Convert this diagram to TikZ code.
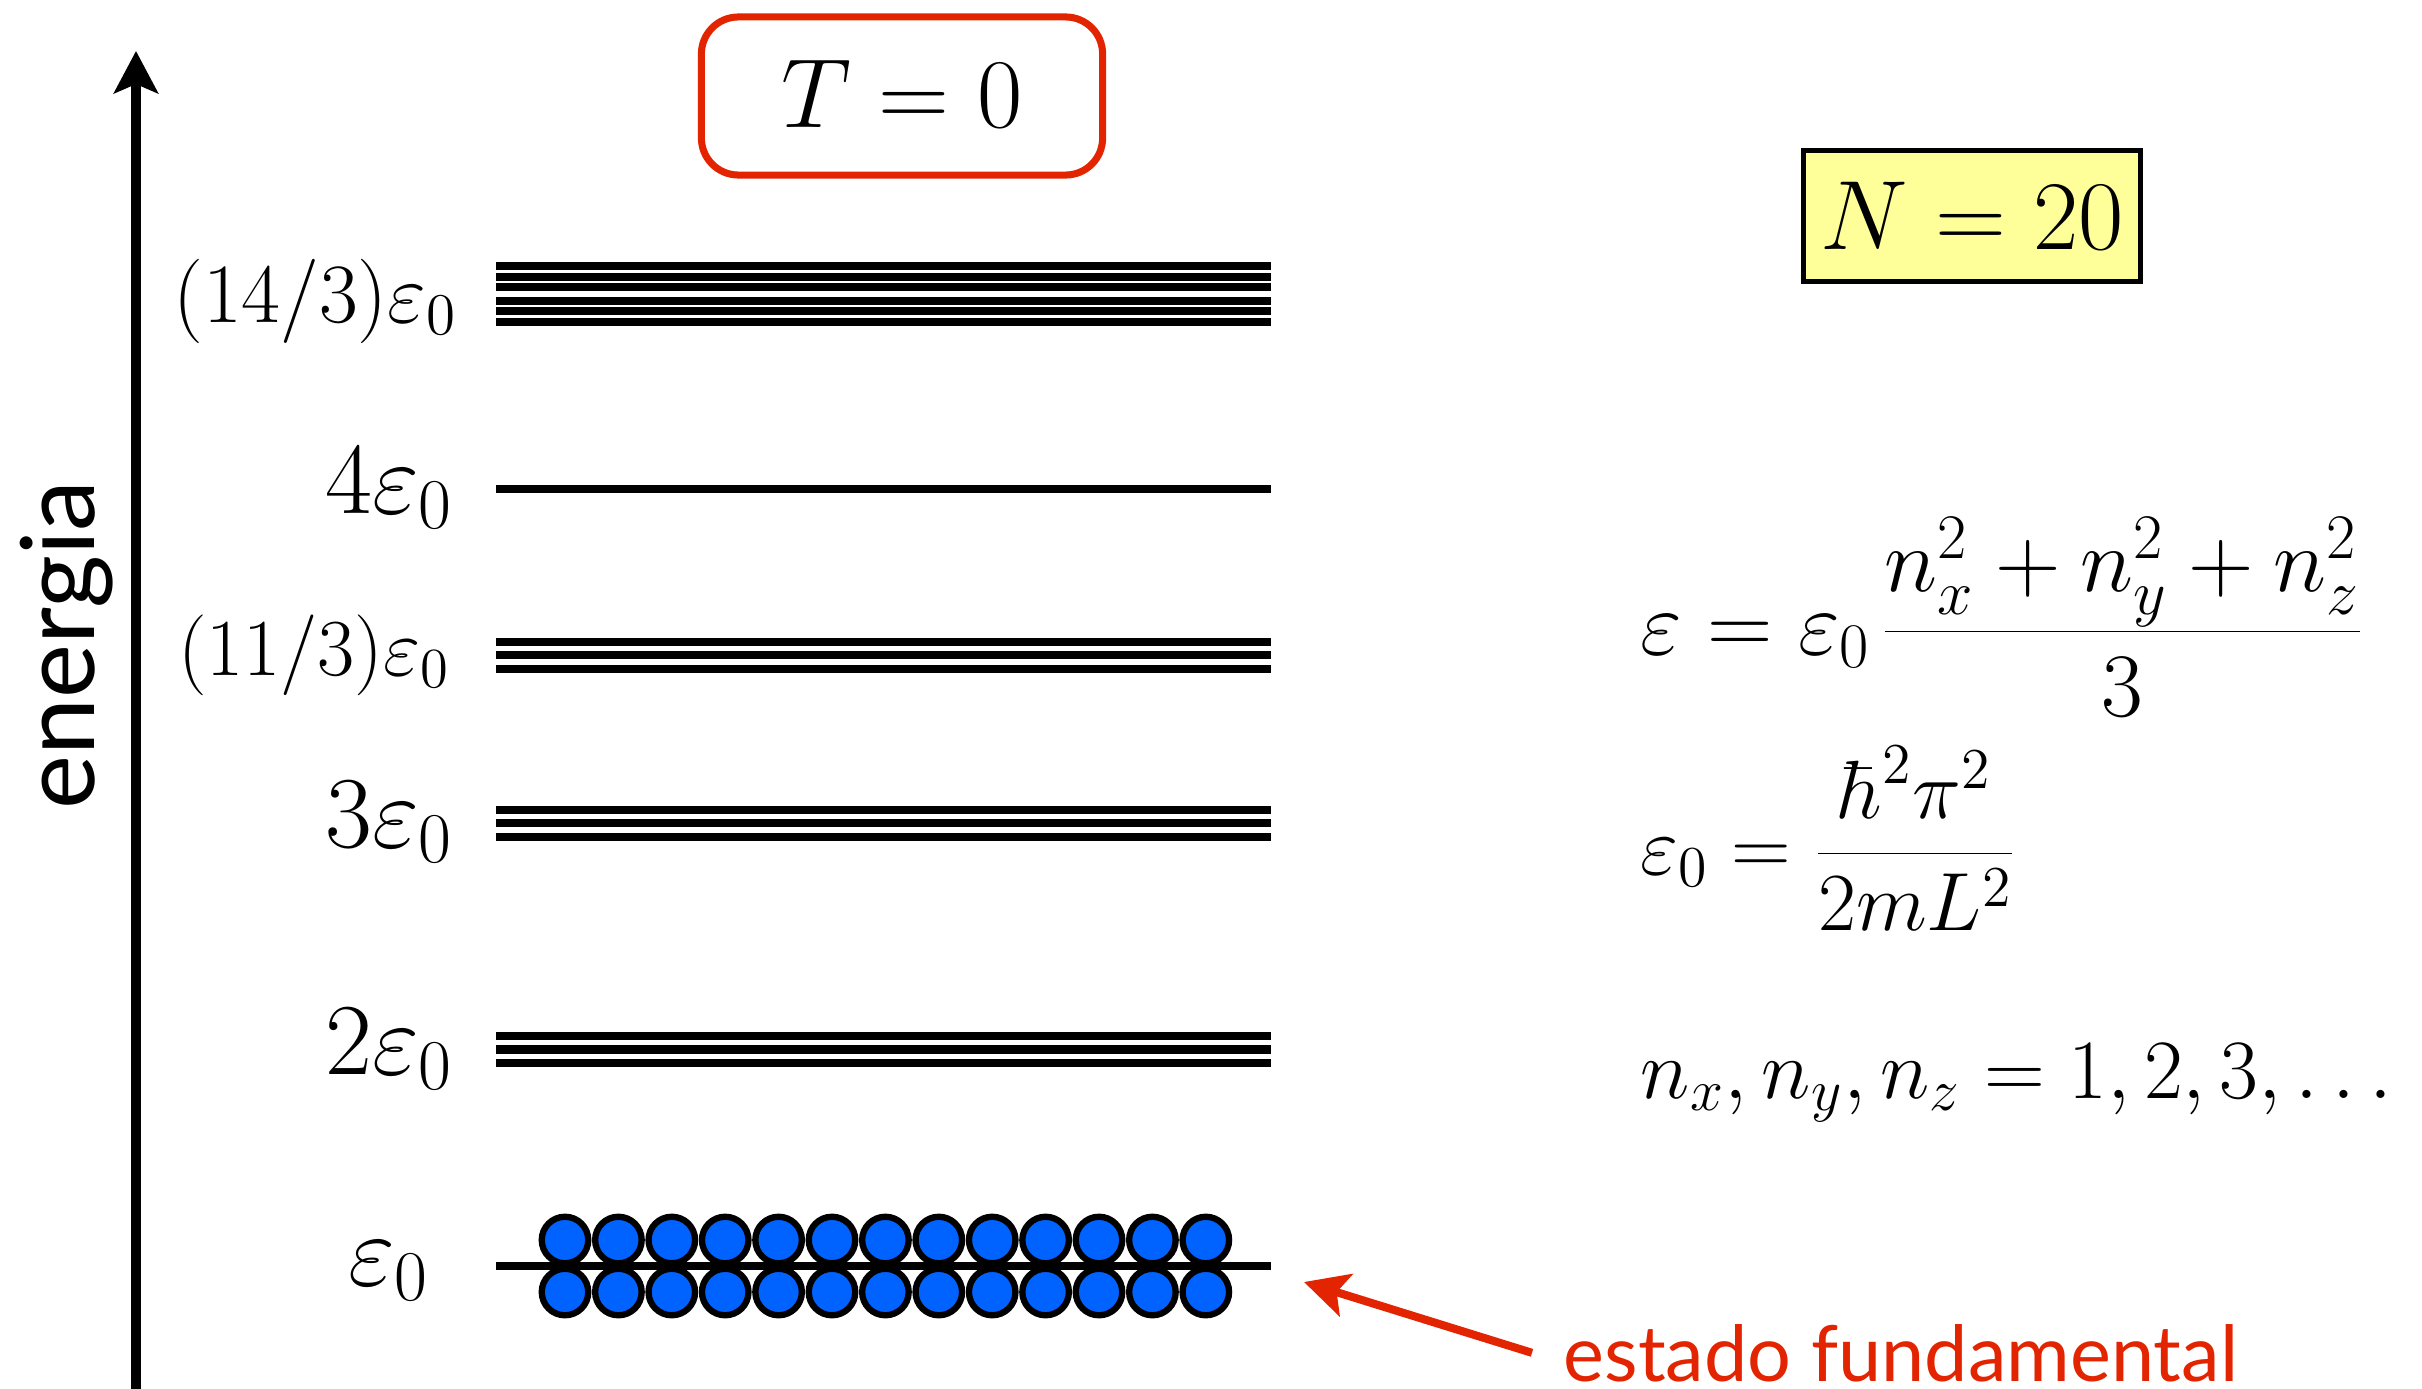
\RequirePackage{fix-cm}
\documentclass[tikz,border=0pt]{standalone}
\usepackage{fontspec}
\newfontfamily\gillfont{Lato}
\usetikzlibrary{arrows.meta}
\usepackage{xcolor}
\definecolor{warnred}{RGB}{226,36,0}
\definecolor{ballblue}{RGB}{0,98,255}
\definecolor{boxyellow}{RGB}{255,255,153}

\begin{document}
\begin{tikzpicture}[
            x=0.01cm, y=-0.01cm,
            level/.style={line width=2.3pt, black},
            lvllabel/.style={anchor=base east, inner sep=0pt, font=\fontsize{29}{34}\selectfont},
            fraclabel/.style={anchor=base east, inner sep=0pt, font=\fontsize{24}{29}\selectfont},
            particle/.style={circle, draw=black, line width=1.8pt, fill=ballblue, minimum size=0.465cm, inner sep=0pt},
            eqnode/.style={anchor=base west, inner sep=0pt, font=\fontsize{24}{29}\selectfont},
            tbox/.style={draw=warnred, line width=2pt, rounded corners=0.37cm, minimum width=4.01cm, minimum height=1.58cm, font=\fontsize{28}{34}\selectfont},
            nbox/.style={draw=black, line width=1.3pt, fill=boxyellow, minimum width=3.37cm, minimum height=1.31cm, font=\fontsize{28}{34}\selectfont},
            axisarrow/.style={-{Stealth[length=12pt, width=12.5pt, inset=2.6pt]}, line width=2.6pt, black},
            redarrow/.style={-{Stealth[length=12.5pt, width=12.5pt, inset=2.8pt]}, line width=2.3pt, warnred}
        ]
            \useasboundingbox (0,0) rectangle (2422,1388);

            % Energy axis
            \coordinate (axbot) at (136,1400);
            \coordinate (axtop) at (136,51);
            \draw[axisarrow] (axbot) -- (axtop);
            \node[rotate=90, anchor=base, inner sep=0pt, font=\gillfont\fontsize{29}{34}\selectfont] (energia) at (94,645) {energia};

            % Boxes
            \node[tbox] (temp) at (902,96) {\raisebox{1.5pt}{$T = 0$}};
            \node[nbox] (npart) at (1972,216) {$N = 20$};

            % Levels
            \foreach \y in {266,276.7,287.3,300.7,311.3,322}
                \draw[level] (496,\y) -- (1271,\y);
            \draw[level] (496,489) -- (1271,489);
            \foreach \y in {642,655.3,668.7}
                \draw[level] (496,\y) -- (1271,\y);
            \foreach \y in {810,823.3,836.7}
                \draw[level] (496,\y) -- (1271,\y);
            \foreach \y in {1036.3,1049.5,1063}
                \draw[level] (496,\y) -- (1271,\y);

            % Ground state with particles
            \foreach \i in {0,...,12} {
                \node[particle] (up\i) at (565+53.4*\i,1240) {};
                \node[particle] (dn\i) at (565+53.4*\i,1292) {};
            }
            \draw[level] (496,1266) -- (1271,1266);

            % Labels
            \node[fraclabel] (e14) at (458,322) {$(14/3)\varepsilon_0$};
            \node[lvllabel] (e4) at (454,513) {$4\varepsilon_0$};
            \node[fraclabel, font=\fontsize{23}{28}\selectfont] (e11) at (451,675) {$(11/3)\varepsilon_0$};
            \node[lvllabel] (e3) at (454,847) {$3\varepsilon_0$};
            \node[lvllabel] (e2) at (454,1074) {$2\varepsilon_0$};
            \node[lvllabel] (e1) at (430,1285) {$\varepsilon_0$};

            % Formulas
            \node[eqnode, font=\fontsize{25.8}{31}\selectfont] (epsdef) at (1640,654) {$\displaystyle \varepsilon = \varepsilon_0\mkern2mu\frac{n_x^2+n_y^2+n_z^2}{3}$};
            \node[eqnode, font=\fontsize{23.5}{28}\selectfont] (eps0def) at (1640,874) {$\displaystyle \varepsilon_0 = \frac{\hbar^2\pi^2}{2mL^2}$};
            \node[eqnode] (nvals) at (1640,1098) {$n_x, n_y, n_z = 1, 2, 3, \ldots$};

            % Ground state label
            \node[anchor=base west, inner sep=0pt, text=warnred, font=\gillfont\fontsize{22}{26}\selectfont] (fund) at (1563,1381) {estado fundamental};
            \coordinate (gstip) at (1304,1282);
            \draw[redarrow] ([xshift=-0.31cm]fund.west) -- (gstip);

        \end{tikzpicture}
\end{document}
